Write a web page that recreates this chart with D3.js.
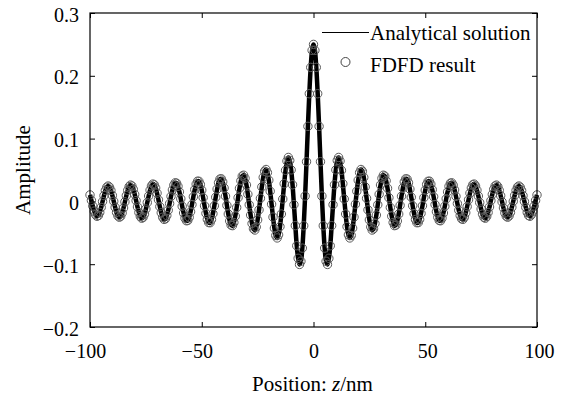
<!DOCTYPE html>
<html><head><meta charset="utf-8">
<script src="https://cdn.jsdelivr.net/npm/d3@7"></script>
<style>
body{margin:0;background:#fff}
svg{display:block}
text{font-family:"Liberation Serif","Times New Roman",serif;fill:#000}
</style>
</head><body>
<svg id="chart" width="564" height="398"></svg>
<script>
// Sampling grid of the FDFD result (nm)
const zStart = -100;
const zStep = 0.625;

// Amplitude, z = -100 ... 100 nm
const amplitude = [
0.0103, 0.0016, -0.0074, -0.0155, -0.0212, -0.0237, -0.0225, -0.0175, -0.0096, -0.0002, 0.0092,
0.0174, 0.0226, 0.0245, 0.0227, 0.0175, 0.0096, 0.0002, -0.0093, -0.0175, -0.0231,
-0.0252, -0.0236, -0.0184, -0.0104, -0.0007, 0.0091, 0.0176, 0.0235, 0.0260, 0.0245,
0.0193, 0.0112, 0.0013, -0.0088, -0.0177, -0.0240, -0.0268, -0.0255, -0.0203, -0.0121,
-0.0019, 0.0086, 0.0179, 0.0246, 0.0276, 0.0265, 0.0214, 0.0131, 0.0026, -0.0083,
-0.0181, -0.0252, -0.0286, -0.0277, -0.0226, -0.0141, -0.0034, 0.0080, 0.0183, 0.0259,
0.0296, 0.0290, 0.0240, 0.0152, 0.0041, -0.0077, -0.0185, -0.0266, -0.0308, -0.0304,
-0.0254, -0.0165, -0.0050, 0.0074, 0.0188, 0.0275, 0.0322, 0.0320, 0.0271, 0.0179,
0.0060, -0.0070, -0.0191, -0.0285, -0.0337, -0.0339, -0.0289, -0.0195, -0.0070, 0.0067,
0.0196, 0.0297, 0.0355, 0.0360, 0.0311, 0.0214, 0.0083, -0.0063, -0.0201, -0.0312,
-0.0377, -0.0386, -0.0336, -0.0235, -0.0097, 0.0059, 0.0209, 0.0329, 0.0403, 0.0417,
0.0368, 0.0262, 0.0114, -0.0054, -0.0218, -0.0352, -0.0436, -0.0456, -0.0407, -0.0295,
-0.0135, 0.0049, 0.0231, 0.0383, 0.0480, 0.0508, 0.0459, 0.0338, 0.0162, -0.0044,
-0.0250, -0.0426, -0.0543, -0.0582, -0.0533, -0.0401, -0.0201, 0.0038, 0.0282, 0.0495,
0.0643, 0.0700, 0.0653, 0.0502, 0.0265, -0.0052, -0.0386, -0.0706, -0.0906, -0.1004,
-0.0953, -0.0744, -0.0388, 0.0085, 0.0632, 0.1195, 0.1715, 0.2134, 0.2406,
0.2500,
0.2406, 0.2134, 0.1715, 0.1195, 0.0632, 0.0085, -0.0388, -0.0744, -0.0953,
-0.1004, -0.0906, -0.0706, -0.0386, -0.0052, 0.0265, 0.0502, 0.0653, 0.0700, 0.0643,
0.0495, 0.0282, 0.0038, -0.0201, -0.0401, -0.0533, -0.0582, -0.0543, -0.0426, -0.0250,
-0.0044, 0.0162, 0.0338, 0.0459, 0.0508, 0.0480, 0.0383, 0.0231, 0.0049, -0.0135,
-0.0295, -0.0407, -0.0456, -0.0436, -0.0352, -0.0218, -0.0054, 0.0114, 0.0262, 0.0368,
0.0417, 0.0403, 0.0329, 0.0209, 0.0059, -0.0097, -0.0235, -0.0336, -0.0386, -0.0377,
-0.0312, -0.0201, -0.0063, 0.0083, 0.0214, 0.0311, 0.0360, 0.0355, 0.0297, 0.0196,
0.0067, -0.0070, -0.0195, -0.0289, -0.0339, -0.0337, -0.0285, -0.0191, -0.0070, 0.0060,
0.0179, 0.0271, 0.0320, 0.0322, 0.0275, 0.0188, 0.0074, -0.0050, -0.0165, -0.0254,
-0.0304, -0.0308, -0.0266, -0.0185, -0.0077, 0.0041, 0.0152, 0.0240, 0.0290, 0.0296,
0.0259, 0.0183, 0.0080, -0.0034, -0.0141, -0.0226, -0.0277, -0.0286, -0.0252, -0.0181,
-0.0083, 0.0026, 0.0131, 0.0214, 0.0265, 0.0276, 0.0246, 0.0179, 0.0086, -0.0019,
-0.0121, -0.0203, -0.0255, -0.0268, -0.0240, -0.0177, -0.0088, 0.0013, 0.0112, 0.0193,
0.0245, 0.0260, 0.0235, 0.0176, 0.0091, -0.0007, -0.0104, -0.0184, -0.0236, -0.0252,
-0.0231, -0.0175, -0.0093, 0.0002, 0.0096, 0.0175, 0.0227, 0.0245, 0.0226, 0.0174,
0.0092, -0.0002, -0.0096, -0.0175, -0.0225, -0.0237, -0.0212, -0.0155, -0.0074, 0.0016,
0.0103
];

const xTicks = [-100, -50, 0, 50, 100];
const xTickLabels = ["\u2212100", "\u221250", "0", "50", "100"];
const yTicks = [-0.2, -0.1, 0, 0.1, 0.2, 0.3];
const yTickLabels = ["\u22120.2", "\u22120.1", "0", "0.1", "0.2", "0.3"];
const legendLabels = ["Analytical solution", "FDFD result"];

const W = 564, H = 398;
const L = 90, R = 537, T = 13, B = 327;

const svg = d3.select("#chart");
svg.append("rect").attr("width", W).attr("height", H).attr("fill", "#fff");

const x = d3.scaleLinear().domain([-100, 100]).range([L, R]);
const y = d3.scaleLinear().domain([-0.2, 0.3]).range([B, T]);

const data = amplitude.map((v, i) => ({ z: zStart + i * zStep, v }));

// analytical line
svg.append("path")
  .datum(data)
  .attr("d", d3.line().x(d => x(d.z)).y(d => y(d.v)).curve(d3.curveCatmullRom))
  .attr("fill", "none")
  .attr("stroke", "#000")
  .attr("stroke-width", 4.5)
  .attr("stroke-linejoin", "round");

// FDFD circles
svg.append("g").selectAll("circle")
  .data(data)
  .join("circle")
  .attr("cx", d => x(d.z))
  .attr("cy", d => y(d.v))
  .attr("r", 4.2)
  .attr("fill", "none")
  .attr("stroke", "#5a5a5a")
  .attr("stroke-width", 1);

// axes
const fontSize = 20;
function styleAxis(g) {
  g.select(".domain").remove();
  g.attr("font-family", null).attr("font-size", null);
  g.selectAll("text").style("font-size", fontSize + "px");
  g.selectAll("line").attr("stroke", "#000");
}

svg.append("g")
  .attr("transform", `translate(0,${B})`)
  .call(d3.axisBottom(x).tickValues(xTicks).tickFormat((d, i) => xTickLabels[i]).tickSize(-5).tickPadding(17))
  .call(styleAxis)
  .call(g => g.selectAll("text").attr("dx", d => d < 0 ? -5 : (d > 0 ? 2 : 0)));

svg.append("g")
  .attr("transform", `translate(0,${T})`)
  .call(d3.axisTop(x).tickValues(xTicks).tickFormat("").tickSize(-5))
  .call(styleAxis);

svg.append("g")
  .attr("transform", `translate(${L},0)`)
  .call(d3.axisLeft(y).tickValues(yTicks).tickFormat((d, i) => yTickLabels[i]).tickSize(-5).tickPadding(11))
  .call(styleAxis)
  .call(g => g.selectAll("text").attr("dy", "0.4em"));

svg.append("g")
  .attr("transform", `translate(${R},0)`)
  .call(d3.axisRight(y).tickValues(yTicks).tickFormat("").tickSize(-5))
  .call(styleAxis);

// frame
svg.append("rect")
  .attr("x", L).attr("y", T).attr("width", R - L).attr("height", B - T)
  .attr("fill", "none").attr("stroke", "#000").attr("stroke-width", 1.2);

// axis titles
svg.append("text")
  .attr("transform", `translate(29.5,${(T + B) / 2}) rotate(-90)`)
  .attr("text-anchor", "middle")
  .style("font-size", "21px")
  .text("Amplitude");

const xt = svg.append("text")
  .attr("x", (L + R) / 2 - 1).attr("y", 391)
  .attr("text-anchor", "middle")
  .style("font-size", "21px");
xt.append("tspan").text("Position: ");
xt.append("tspan").style("font-style", "italic").text("z");
xt.append("tspan").text("/nm");

// legend
const lg = svg.append("g");
lg.append("line").attr("x1", 322).attr("x2", 369).attr("y1", 32.5).attr("y2", 32.5)
  .attr("stroke", "#000").attr("stroke-width", 1.2);
lg.append("text").attr("x", 370).attr("y", 39.5).style("font-size", "21px").text(legendLabels[0]);
lg.append("circle").attr("cx", 345.5).attr("cy", 62).attr("r", 4.5)
  .attr("fill", "none").attr("stroke", "#444").attr("stroke-width", 1);
lg.append("text").attr("x", 370).attr("y", 71.5).style("font-size", "21px").text(legendLabels[1]);
</script>
</body></html>
